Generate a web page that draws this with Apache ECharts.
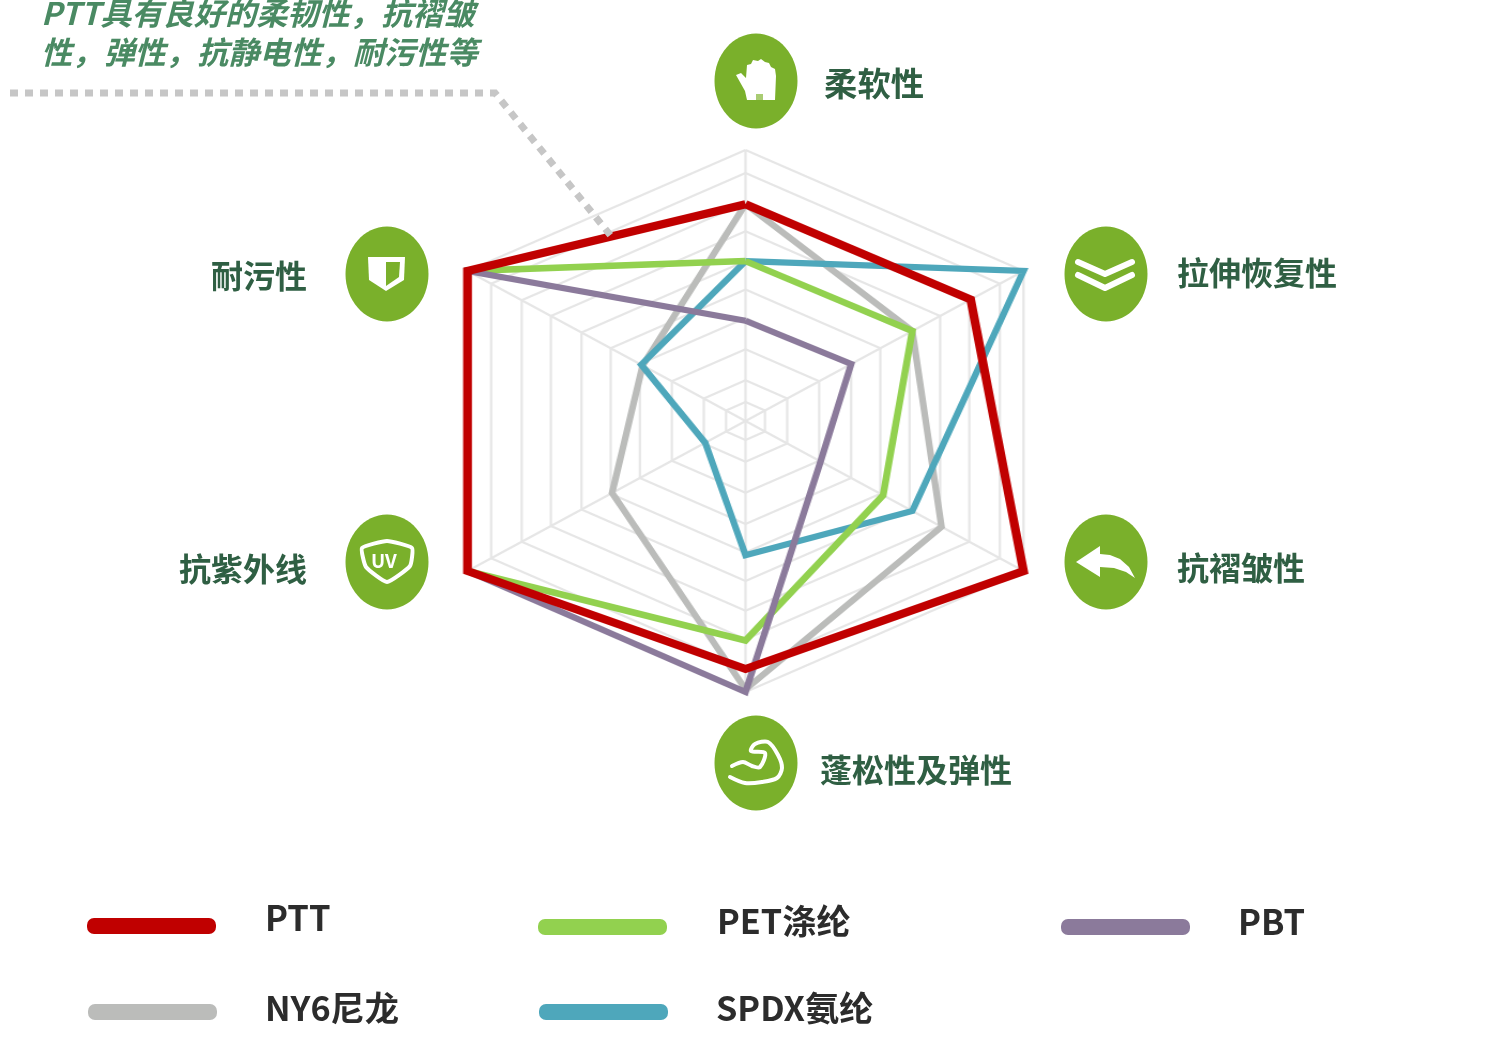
<!DOCTYPE html>
<html>
<head>
<meta charset="utf-8">
<script src="https://cdn.jsdelivr.net/npm/echarts@6/dist/echarts.min.js"></script>
<style>
html,body{margin:0;padding:0;background:#fff;overflow:hidden;width:1498px;height:1063px}
#radar,#overlay{position:absolute;left:0;top:0;width:1498px;height:1063px}
#radar{transform:scaleX(1.07);transform-origin:745.5px 0}
</style>
</head>
<body>
<div id="radar"></div>
<div id="overlay"></div>
<script>
// Axes, counter-clockwise from the top, as the radar lays them out
const axisNames = ['柔软性', '耐污性', '抗紫外线', '蓬松性及弹性', '抗褶皱性', '拉伸恢复性'];
// Values, in percent of the outer ring
const ptt  = [80, 100, 100, 91.5, 100, 81];
const pet  = [59, 100, 100, 81, 49.5, 60];
const pbt  = [37, 100, 100, 100, 27, 38];
const ny6  = [80, 37, 48, 99, 70.5, 60];
const spdx = [59, 37.5, 14.5, 49.5, 60, 100];
// The printed rings are not evenly spaced
const ringLevels = [7, 15, 26.5, 38, 48.5, 59, 70, 80.5, 91.5, 100];
const spokesA = [100, 0, 100, 0, 100, 0];
const spokesB = [0, 100, 0, 100, 0, 100];
const seriesNames = ['PTT', 'PET涤纶', 'PBT', 'NY6尼龙', 'SPDX氨纶'];

const RED = '#c00000', GREEN = '#92d14f', PURPLE = '#8b7a9b', GREY = '#bbbcba', BLUE = '#4ea7bb';
const GRID = '#e6e6e6', LABEL = '#2f5f43', NOTE = '#4a8a63', DARK = '#2c2c2c', BADGE = '#7ab02b';
const FONT = '"Noto Sans CJK SC","Noto Sans",sans-serif';

// The printed hexagon is taller at its side axes than its top: the top and bottom axes run to a larger max
const R = 300, TOP_R = 271;
const sideMax = 100, tallMax = 100 * R / TOP_R;

function lineSeries(name, values, color, width, z) {
  return {
    type: 'radar', name: name, symbol: 'none', z: z, silent: true,
    lineStyle: {color: color, width: width, join: 'miter', miterLimit: 4},
    data: [{value: values}]
  };
}

const radarChart = echarts.init(document.getElementById('radar'));
radarChart.setOption({
  animation: false,
  radar: {
    center: [745.5, 421], radius: R, shape: 'polygon',
    axisName: {show: false},
    axisLine: {show: false}, axisTick: {show: false}, axisLabel: {show: false},
    splitLine: {show: false}, splitArea: {show: false},
    indicator: axisNames.map((n, i) => ({name: n, min: 0, max: i % 3 === 0 ? tallMax : sideMax}))
  },
  series: [
    {
      type: 'radar', symbol: 'none', z: 1, silent: true,
      lineStyle: {color: GRID, width: 2.2},
      data: ringLevels.map(v => ({value: axisNames.map(() => v)})).concat([{value: spokesA}, {value: spokesB}])
    },
    lineSeries(seriesNames[3], ny6, GREY, 6.2, 2),
    lineSeries(seriesNames[4], spdx, BLUE, 6.2, 3),
    lineSeries(seriesNames[1], pet, GREEN, 6.5, 4),
    lineSeries(seriesNames[2], pbt, PURPLE, 6.2, 5),
    lineSeries(seriesNames[0], ptt, RED, 8.2, 6)
  ]
});

function txt(t, x, y, size, color) {
  return {type: 'text', x: x, y: y, z: 10, style: {
    text: t, fill: color, font: 'bold ' + size + 'px ' + FONT, verticalAlign: 'middle'
  }};
}
function badge(cx, cy) {
  return {type: 'ellipse', z: 5, shape: {cx: cx, cy: cy, rx: 41.5, ry: 47.5}, style: {fill: BADGE}};
}
function swatch(x, y, color) {
  return {type: 'rect', z: 5, shape: {x: x, y: y, width: 129, height: 16, r: 7}, style: {fill: color}};
}
const W = {fill: '#fff'};
const S = {stroke: '#fff', fill: null, lineWidth: 5, lineCap: 'round', lineJoin: 'round'};

const graphics = [
  // note and leader
  {type: 'text', x: 41, y: 13, z: 10, style: {text: 'PTT具有良好的柔韧性，抗褶皱', fill: NOTE, font: 'italic bold 31.2px ' + FONT, verticalAlign: 'middle'}},
  {type: 'text', x: 41, y: 52, z: 10, style: {text: '性，弹性，抗静电性，耐污性等', fill: NOTE, font: 'italic bold 31.2px ' + FONT, verticalAlign: 'middle'}},
  {type: 'polyline', z: 8, shape: {points: [[10, 93], [495, 93], [611, 236]]},
   style: {stroke: '#c6c6c6', fill: null, lineWidth: 7, lineDash: [8, 7]}},

  // badges
  badge(756, 81), badge(1106, 274), badge(1106, 562), badge(756, 763), badge(387, 562), badge(387, 274),

  // hand
  {type: 'polygon', z: 6, shape: {points: [[736, 75], [741, 73], [746, 78], [747, 65], [751, 64], [753, 60], [758, 61], [761, 59], [765, 62], [769, 63], [771, 67], [775, 69], [776, 76], [775, 100], [747, 100], [745, 91]]}, style: W},
  {type: 'rect', z: 7, shape: {x: 756, y: 94, width: 7, height: 6}, style: {fill: '#a9cc73'}},
  // chevrons
  {type: 'polyline', z: 6, shape: {points: [[1078, 262], [1105, 274], [1132, 262]]}, style: Object.assign({}, S, {lineWidth: 6})},
  {type: 'polyline', z: 6, shape: {points: [[1078, 275], [1105, 288], [1132, 275]]}, style: Object.assign({}, S, {lineWidth: 6})},
  // arrow
  {type: 'polygon', z: 6, shape: {points: [[1076, 562], [1100, 546], [1100, 554], [1110, 555], [1120, 559], [1129, 567], [1135, 578], [1126, 572], [1114, 568], [1100, 567], [1100, 577]]}, style: W},
  // muscle
  {type: 'polyline', z: 6, shape: {smooth: 0.3, points: [[732, 766], [743, 762], [752, 766], [760, 767], [765, 753], [751, 751], [755, 744], [768, 742], [778, 755], [782, 768], [777, 778], [762, 782], [745, 783], [730, 777]]},
   style: Object.assign({}, S, {lineWidth: 4})},
  // UV shield
  {type: 'polygon', z: 6, shape: {smooth: 0.15, points: [[362, 548], [387, 541], [412, 548], [410, 566], [387, 582], [366, 567]]}, style: Object.assign({}, S, {lineWidth: 4})},
  txt('UV', 371, 561, 19, '#fff'),
  // stain shield
  {type: 'polygon', z: 6, shape: {points: [[368, 257], [405, 257], [404, 280], [386, 291], [369, 280]]}, style: W},
  {type: 'polygon', z: 7, shape: {points: [[386, 262], [400, 262], [399, 277], [386, 286]]}, style: {fill: BADGE}},

  // axis labels
  txt(axisNames[0], 824, 83, 33.4, LABEL),
  txt(axisNames[5], 1177, 273, 32, LABEL),
  txt(axisNames[4], 1177, 568, 32, LABEL),
  txt(axisNames[3], 820, 770, 32, LABEL),
  txt(axisNames[2], 179, 569, 32, LABEL),
  txt(axisNames[1], 211, 276, 32, LABEL),

  // legend
  swatch(87, 918, RED), txt(seriesNames[0], 265, 918, 34.5, DARK),
  swatch(538, 919, GREEN), txt(seriesNames[1], 717, 921, 34.2, DARK),
  swatch(1061, 919, PURPLE), txt(seriesNames[2], 1238, 922, 34.5, DARK),
  swatch(88, 1004, GREY), txt(seriesNames[3], 265, 1008, 34.2, DARK),
  swatch(539, 1004, BLUE), txt(seriesNames[4], 716, 1008, 34.2, DARK)
];

const overlay = echarts.init(document.getElementById('overlay'));
overlay.setOption({animation: false, backgroundColor: 'transparent', graphic: {elements: graphics}});
</script>
</body>
</html>
